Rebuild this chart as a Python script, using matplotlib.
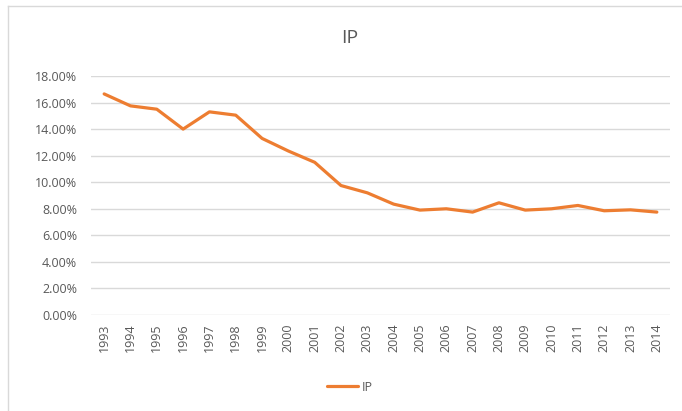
import matplotlib.pyplot as plt
from matplotlib.ticker import PercentFormatter

years = [str(y) for y in range(1993, 2015)]
ip = [16.65, 15.75, 15.5, 14.0, 15.3, 15.05, 13.3, 12.35, 11.5, 9.75, 9.2,
      8.35, 7.9, 8.0, 7.75, 8.45, 7.9, 8.0, 8.25, 7.85, 7.92, 7.75]
yticks = [0, 2, 4, 6, 8, 10, 12, 14, 16, 18]

plt.rcParams['font.family'] = ['Open Sans', 'DejaVu Sans']
text_col = '#595959'

fig = plt.figure(figsize=(6.82, 4.11), dpi=100)
ax = fig.add_axes([91 / 682, 1 - 315 / 411, (670 - 91) / 682, (315 - 76) / 411])

# chart area border (left and top edges visible)
fig.add_artist(plt.Line2D([8 / 682, 8 / 682], [0, 1 - 6 / 411], color='#d9d9d9', lw=1))
fig.add_artist(plt.Line2D([8 / 682, 1], [1 - 6 / 411, 1 - 6 / 411], color='#d9d9d9', lw=1))

x = list(range(len(years)))
ax.plot(x, ip, color='#ED7D31', lw=2.3, label='IP', solid_capstyle='round')

ax.set_xlim(-0.5, len(years) - 0.5)
ax.set_ylim(0, 18)
ax.set_yticks(yticks)
ax.yaxis.set_major_formatter(PercentFormatter(decimals=2))
ax.set_xticks(x)
ax.set_xticklabels(years, rotation=90)
ax.tick_params(axis='both', length=0, colors=text_col, labelsize=9)
ax.tick_params(axis='x', pad=6)
ax.tick_params(axis='y', pad=10)
ax.grid(axis='y', color='#d9d9d9', lw=1)
ax.set_axisbelow(True)
for s in ax.spines.values():
    s.set_visible(False)

fig.text(350 / 682, 1 - 38 / 411, 'IP', ha='center', va='center', fontsize=14, color=text_col)

fig.legend(loc='center', bbox_to_anchor=(350 / 682, 1 - 387 / 411), frameon=False,
           fontsize=9, labelcolor=text_col, handlelength=2.5, handletextpad=0.3)

fig.savefig('out.png', dpi=100)
